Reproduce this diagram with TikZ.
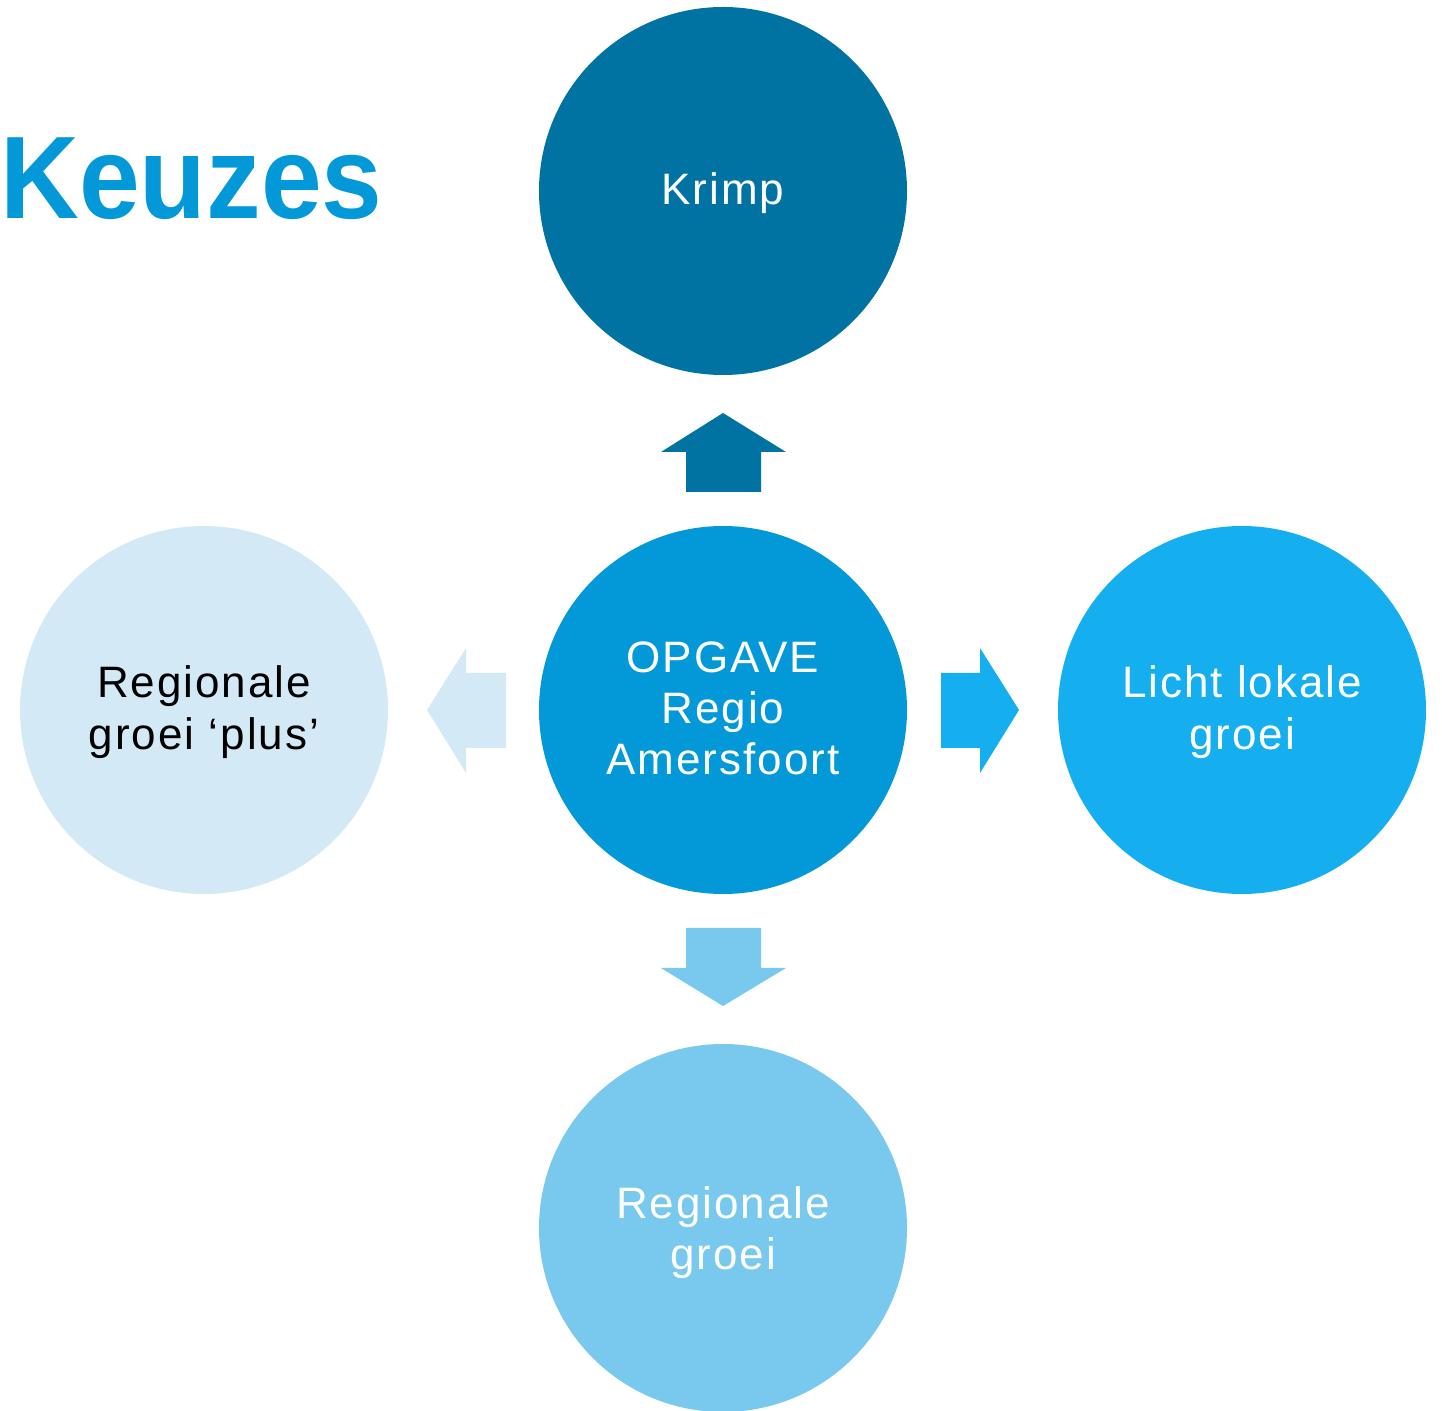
\documentclass[tikz,border=0pt]{standalone}
\usepackage{fontspec}
\setmainfont{Liberation Sans}
\newfontfamily\circfont[LetterSpace=4.5]{Liberation Sans}
\newfontfamily\titlefont{Liberation Sans}
\definecolor{cKrimp}{HTML}{0073A2}
\definecolor{cCenter}{HTML}{0398D8}
\definecolor{cRight}{HTML}{15AFEF}
\definecolor{cBottom}{HTML}{79C9EE}
\definecolor{cLeft}{HTML}{D3EAF6}
\newcommand{\mylines}[2]{\vtop{\baselineskip=#1\lineskip=0pt\lineskiplimit=-20pt\halign{\hfil##\hfil\cr#2\crcr}}}
\begin{document}
\begin{tikzpicture}[x=0.5pt,y=-0.5pt,
  bubble/.style={circle,minimum size=184pt,inner sep=0pt,draw=none},
  lbl/.style={anchor=base,inner sep=0pt,font=\circfont\fontsize{22}{26}\selectfont,text=white}]
\useasboundingbox (0,0) rectangle (1442,1411);
% circles
\node[bubble,fill=cKrimp] (krimp) at (723,191) {};
\node[bubble,fill=cCenter] (center) at (723,710) {};
\node[bubble,fill=cLeft] (left) at (204,710) {};
\node[bubble,fill=cRight] (right) at (1242,710) {};
\node[bubble,fill=cBottom] (bottom) at (723,1228) {};
% labels
\node[lbl] (tkrimp) at (723,205) {Krimp};
\node[lbl] (tcenter) at (723,673) {\mylines{25.5pt}{OPGAVE\cr Regio\cr Amersfoort}};
\node[lbl,text=black] (tleft) at (204,698) {\mylines{26pt}{Regionale\cr groei ‘plus’}};
\node[lbl] (tright) at (1242,698) {\mylines{26pt}{Licht lokale\cr groei}};
\node[lbl] (tbottom) at (723,1218) {\mylines{25.5pt}{Regionale\cr groei}};
% title
\node[anchor=base west,inner sep=0pt,text=cCenter] (title) at (0,219)
  {\scalebox{0.93}[1]{\titlefont\bfseries\fontsize{58.7}{60}\selectfont Keuzes}};
% block arrows
\fill[cKrimp] (686,492) -- (686,452) -- (661,452) -- (723,413) -- (786,452) -- (761,452) -- (761,492) -- cycle;
\fill[cBottom] (686,928) -- (686,968) -- (661,968) -- (723,1006) -- (786,968) -- (761,968) -- (761,928) -- cycle;
\fill[cRight] (941,673) -- (980,673) -- (980,648) -- (1019,710) -- (980,773) -- (980,748) -- (941,748) -- cycle;
\fill[cLeft] (506,673) -- (466,673) -- (466,648) -- (427,710) -- (466,773) -- (466,748) -- (506,748) -- cycle;
\end{tikzpicture}
\end{document}
